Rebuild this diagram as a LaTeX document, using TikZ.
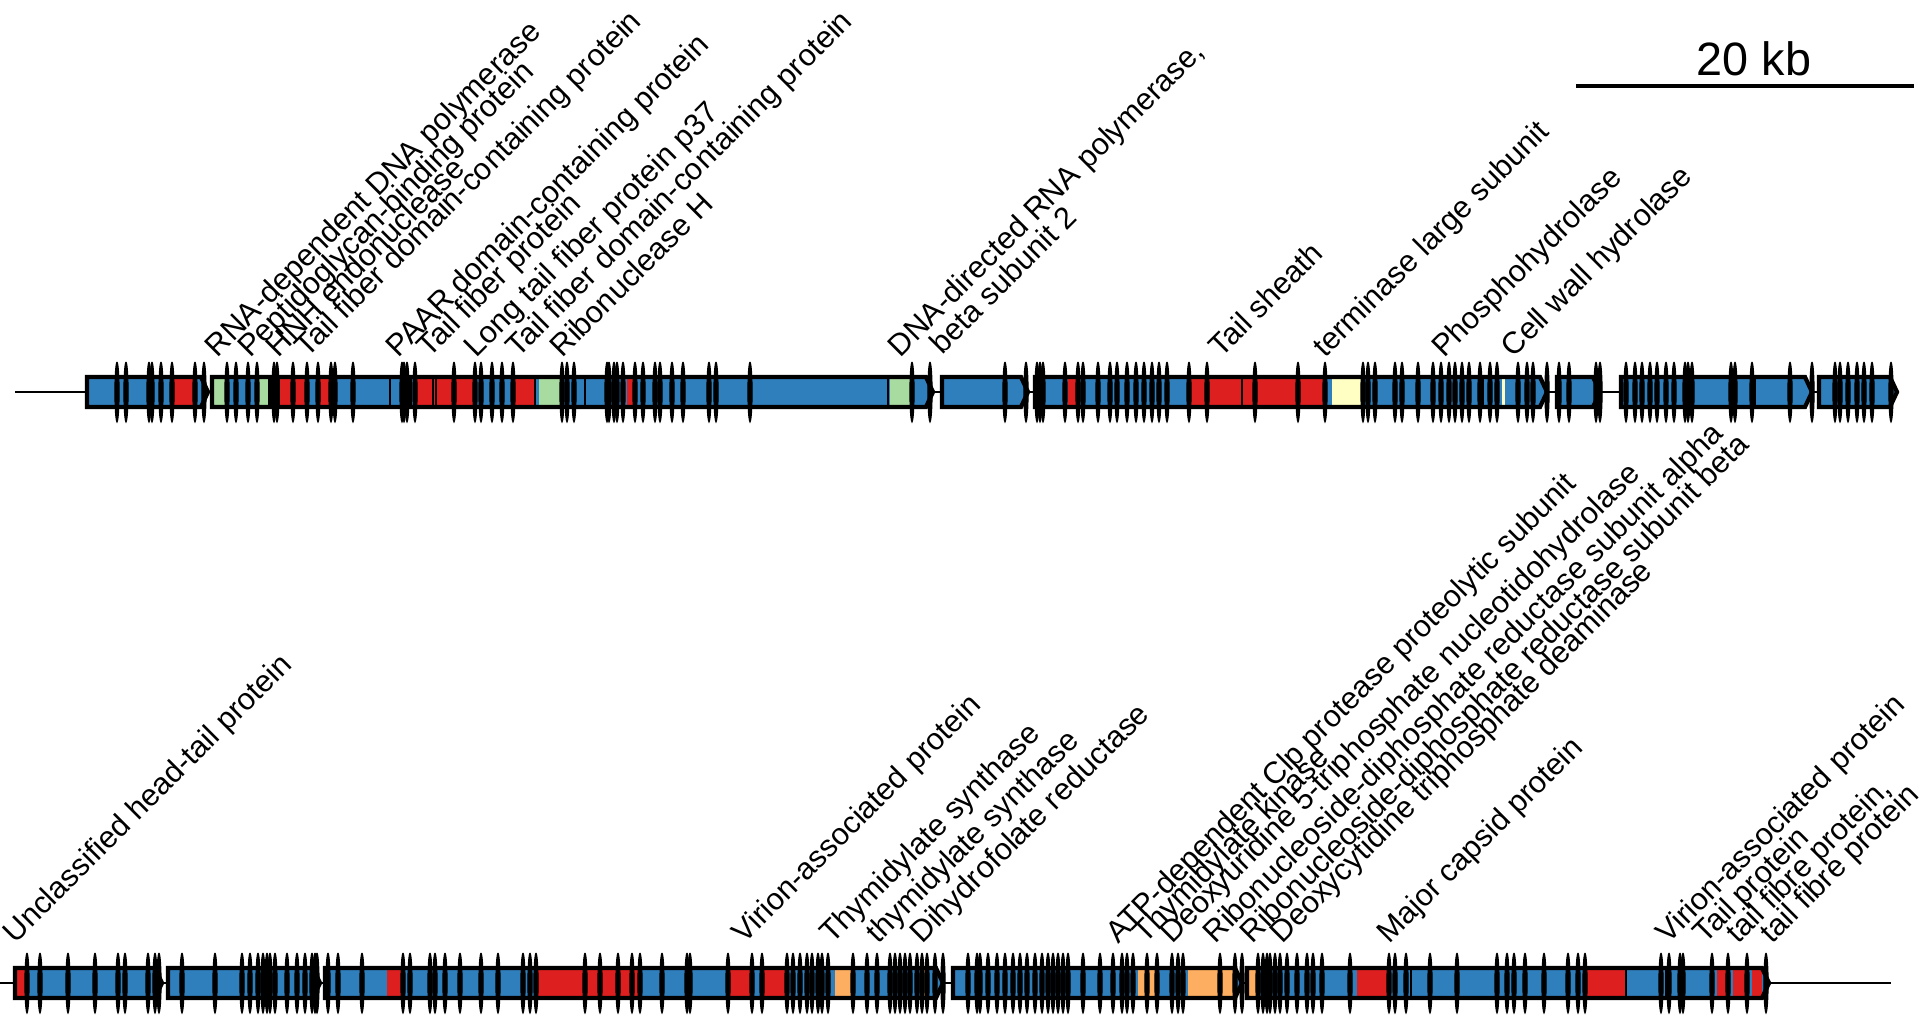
\documentclass[tikz,border=0pt]{standalone}
\usepackage{fontspec}
\setmainfont{Liberation Sans}
\usepackage{tikz}
\usetikzlibrary{positioning}
\definecolor{geneblue}{HTML}{2F7FBD}
\definecolor{genered}{HTML}{DD1F1F}
\definecolor{genegreen}{HTML}{A8DBA0}
\definecolor{geneyellow}{HTML}{FFFFC4}
\definecolor{geneorange}{HTML}{FDAE61}
\tikzstyle{backbone} = [draw, line width=0.6pt]
\tikzstyle{genebody} = [fill=geneblue]
\tikzstyle{geneedge} = [draw, line width=1.2pt, line join=miter]
\tikzstyle{genedivide} = [draw, line width=0.8pt]
\tikzstyle{genetick} = [fill, draw, line width=0.3pt]
\tikzstyle{glabel} = [rotate=45, anchor=base west, inner sep=0pt, font=\fontsize{8.7}{10}\selectfont]
\tikzstyle{scalebar} = [draw, line width=1.4pt]

\begin{document}
\begin{tikzpicture}[x=0.01cm, y=-0.01cm]
  \useasboundingbox (0,0) rectangle (1920,1031);

  % scale bar
  \draw[scalebar] (1576,86) -- (1914,86);
  \node[anchor=base, font=\fontsize{13.3}{16}\selectfont] (kb) at (1754,76) {20 kb};

  % ---- upper track ----
  \draw[backbone] (15,392) -- (1897,392);
  \foreach \a/\b in {87/208, 212/933, 942/1028, 1035/1547, 1557/1600, 1621/1812, 1819/1897}
    \fill[genebody] (\a,377) -- (\b-7,377) -- (\b,392) -- (\b-7,407) -- (\a,407) -- cycle;
  \foreach \a/\b/\c in {172/195/genered, 212/227/genegreen, 257/268/genegreen, 268/280/black,
      280/307/genered, 318/331/genered, 402/412/black, 415/475/genered, 512/535/genered,
      539/562/genegreen, 627/635/genered, 890/912/genegreen, 1068/1080/genered,
      1189/1327/genered, 1332/1365/geneyellow, 1502/1505/geneyellow, 1685/1694/black}
    \fill[\c] (\a,377) rectangle (\b,407);
  \foreach \x in {390, 433, 436, 535, 585, 888, 1242, 1483, 1755}
    \draw[genedivide] (\x,377) -- (\x,407);
  \foreach \a/\b in {87/208, 212/933, 942/1028, 1035/1547, 1557/1600, 1621/1812, 1819/1897}
    \draw[geneedge] (\a,377) -- (\b-7,377) -- (\b,392) -- (\b-7,407) -- (\a,407) -- cycle;
  \foreach \x in {117, 126, 149, 152, 161, 172, 195, 204, 227, 236, 248, 257, 274, 277, 293, 307,
      318, 331, 335, 353, 402, 404, 407, 415, 454, 475, 481, 492, 502, 513, 562, 567, 574, 607,
      609, 614, 617, 623, 635, 643, 655, 660, 672, 683, 709, 716, 750, 912, 930, 1005, 1026,
      1037, 1040, 1043, 1065, 1078, 1083, 1098, 1110, 1117, 1127, 1136, 1144, 1152, 1159, 1167,
      1189, 1207, 1255, 1298, 1325, 1363, 1368, 1375, 1395, 1402, 1418, 1433, 1441, 1449, 1455,
      1462, 1469, 1480, 1490, 1497, 1518, 1527, 1533, 1547, 1559, 1569, 1596, 1600, 1626, 1635,
      1642, 1650, 1657, 1666, 1674, 1685, 1688, 1692, 1731, 1735, 1752, 1790, 1812, 1835, 1840,
      1848, 1857, 1864, 1872, 1891}
    \path[genetick] (\x,362) .. controls (\x+2.8,366) and (\x+2.8,418) .. (\x,422)
                  .. controls (\x-2.8,418) and (\x-2.8,366) .. (\x,362);

  \node[glabel] (t1) at (217,359) {RNA-dependent DNA polymerase};
  \node[glabel] (t2) at (250,359) {Peptidoglycan-binding protein};
  \node[glabel] (t3) at (278,359) {HNH endonuclease};
  \node[glabel] (t4) at (307,359) {Tail fiber domain-containing protein};
  \node[glabel] (t5) at (398,359) {PAAR domain-containing protein};
  \node[glabel] (t6) at (429,359) {Tail fiber protein};
  \node[glabel] (t7) at (476,359) {Long tail fiber protein p37};
  \node[glabel] (t8) at (518,359) {Tail fiber domain-containing protein};
  \node[glabel] (t9) at (562,359) {Ribonuclease H};
  \node[glabel] (t10) at (900,359) {DNA-directed RNA polymerase,};
  \node[glabel] (t10b) at (942,356) {beta subunit 2};
  \node[glabel] (t11) at (1221,359) {Tail sheath};
  \node[glabel] (t12) at (1325,359) {terminase large subunit};
  \node[glabel] (t13) at (1444,359) {Phosphohydrolase};
  \node[glabel] (t14) at (1513,359) {Cell wall hydrolase};

  % ---- lower track ----
  \draw[backbone] (0,983) -- (1891,983);
  \foreach \a/\b in {15/162, 168/320, 325/943, 953/1242, 1247/1769}
    \fill[genebody] (\a,968) -- (\b-7,968) -- (\b,983) -- (\b-7,998) -- (\a,998) -- cycle;
  \foreach \a/\b/\c in {15/27/genered, 387/405/genered, 536/642/genered, 728/752/genered,
      762/785/genered, 835/853/geneorange, 922/928/geneorange, 1138/1157/geneorange,
      1188/1237/geneorange, 1247/1258/geneorange, 1357/1390/genered, 1585/1626/genered,
      1666/1671/genered, 1717/1728/genered, 1733/1747/genered, 1752/1762/genered}
    \fill[\c] (\a,968) rectangle (\b,998);
  \foreach \x in {1411, 1626, 1666}
    \draw[genedivide] (\x,968) -- (\x,998);
  \foreach \a/\b in {15/162, 168/320, 325/943, 953/1242, 1247/1769}
    \draw[geneedge] (\a,968) -- (\b-7,968) -- (\b,983) -- (\b-7,998) -- (\a,998) -- cycle;
  \foreach \x in {27, 40, 68, 95, 118, 125, 148, 155, 159, 182, 215, 242, 250, 258, 263, 267, 270,
      275, 287, 297, 305, 312, 315, 317, 328, 338, 362, 403, 410, 430, 435, 445, 460, 481, 498,
      523, 530, 536, 585, 600, 618, 632, 640, 662, 687, 690, 728, 752, 762, 787, 793, 800, 807,
      812, 818, 822, 828, 853, 867, 877, 890, 895, 900, 905, 910, 917, 922, 927, 935, 943, 968,
      977, 980, 988, 997, 1005, 1013, 1020, 1027, 1035, 1042, 1048, 1053, 1058, 1063, 1068, 1083,
      1100, 1113, 1122, 1127, 1133, 1147, 1157, 1172, 1178, 1183, 1220, 1235, 1242, 1258, 1263,
      1267, 1270, 1275, 1280, 1287, 1297, 1307, 1313, 1322, 1350, 1389, 1395, 1406, 1430, 1457,
      1497, 1507, 1514, 1525, 1544, 1568, 1578, 1585, 1661, 1669, 1680, 1683, 1712, 1728, 1747,
      1766}
    \path[genetick] (\x,953) .. controls (\x+2.8,957) and (\x+2.8,1009) .. (\x,1013)
                  .. controls (\x-2.8,1009) and (\x-2.8,957) .. (\x,953);

  \node[glabel] (b1) at (15,945) {Unclassified head-tail protein};
  \node[glabel] (b2) at (744,945) {Virion-associated protein};
  \node[glabel] (b3) at (832,945) {Thymidylate synthase};
  \node[glabel] (b4) at (878,945) {thymidylate synthase};
  \node[glabel] (b5) at (922,945) {Dihydrofolate reductase};
  \node[glabel] (b6) at (1118,945) {ATP-dependent Clp protease proteolytic subunit};
  \node[glabel] (b7) at (1145,945) {Thymidylate kinase};
  \node[glabel] (b8) at (1172,945) {Deoxyuridine 5-triphosphate nucleotidohydrolase};
  \node[glabel] (b9) at (1215,945) {Ribonucleoside-diphosphate reductase subunit alpha};
  \node[glabel] (b10) at (1252,945) {Ribonucleoside-diphosphate reductase subunit beta};
  \node[glabel] (b11) at (1282,945) {Deoxycytidine triphosphate deaminase};
  \node[glabel] (b12) at (1389,945) {Major capsid protein};
  \node[glabel] (b13) at (1668,945) {Virion-associated protein};
  \node[glabel] (b14) at (1705,945) {Tail protein};
  \node[glabel] (b15) at (1738,945) {tail fibre protein,};
  \node[glabel] (b16) at (1772,945) {tail fibre protein};
\end{tikzpicture}
\end{document}
